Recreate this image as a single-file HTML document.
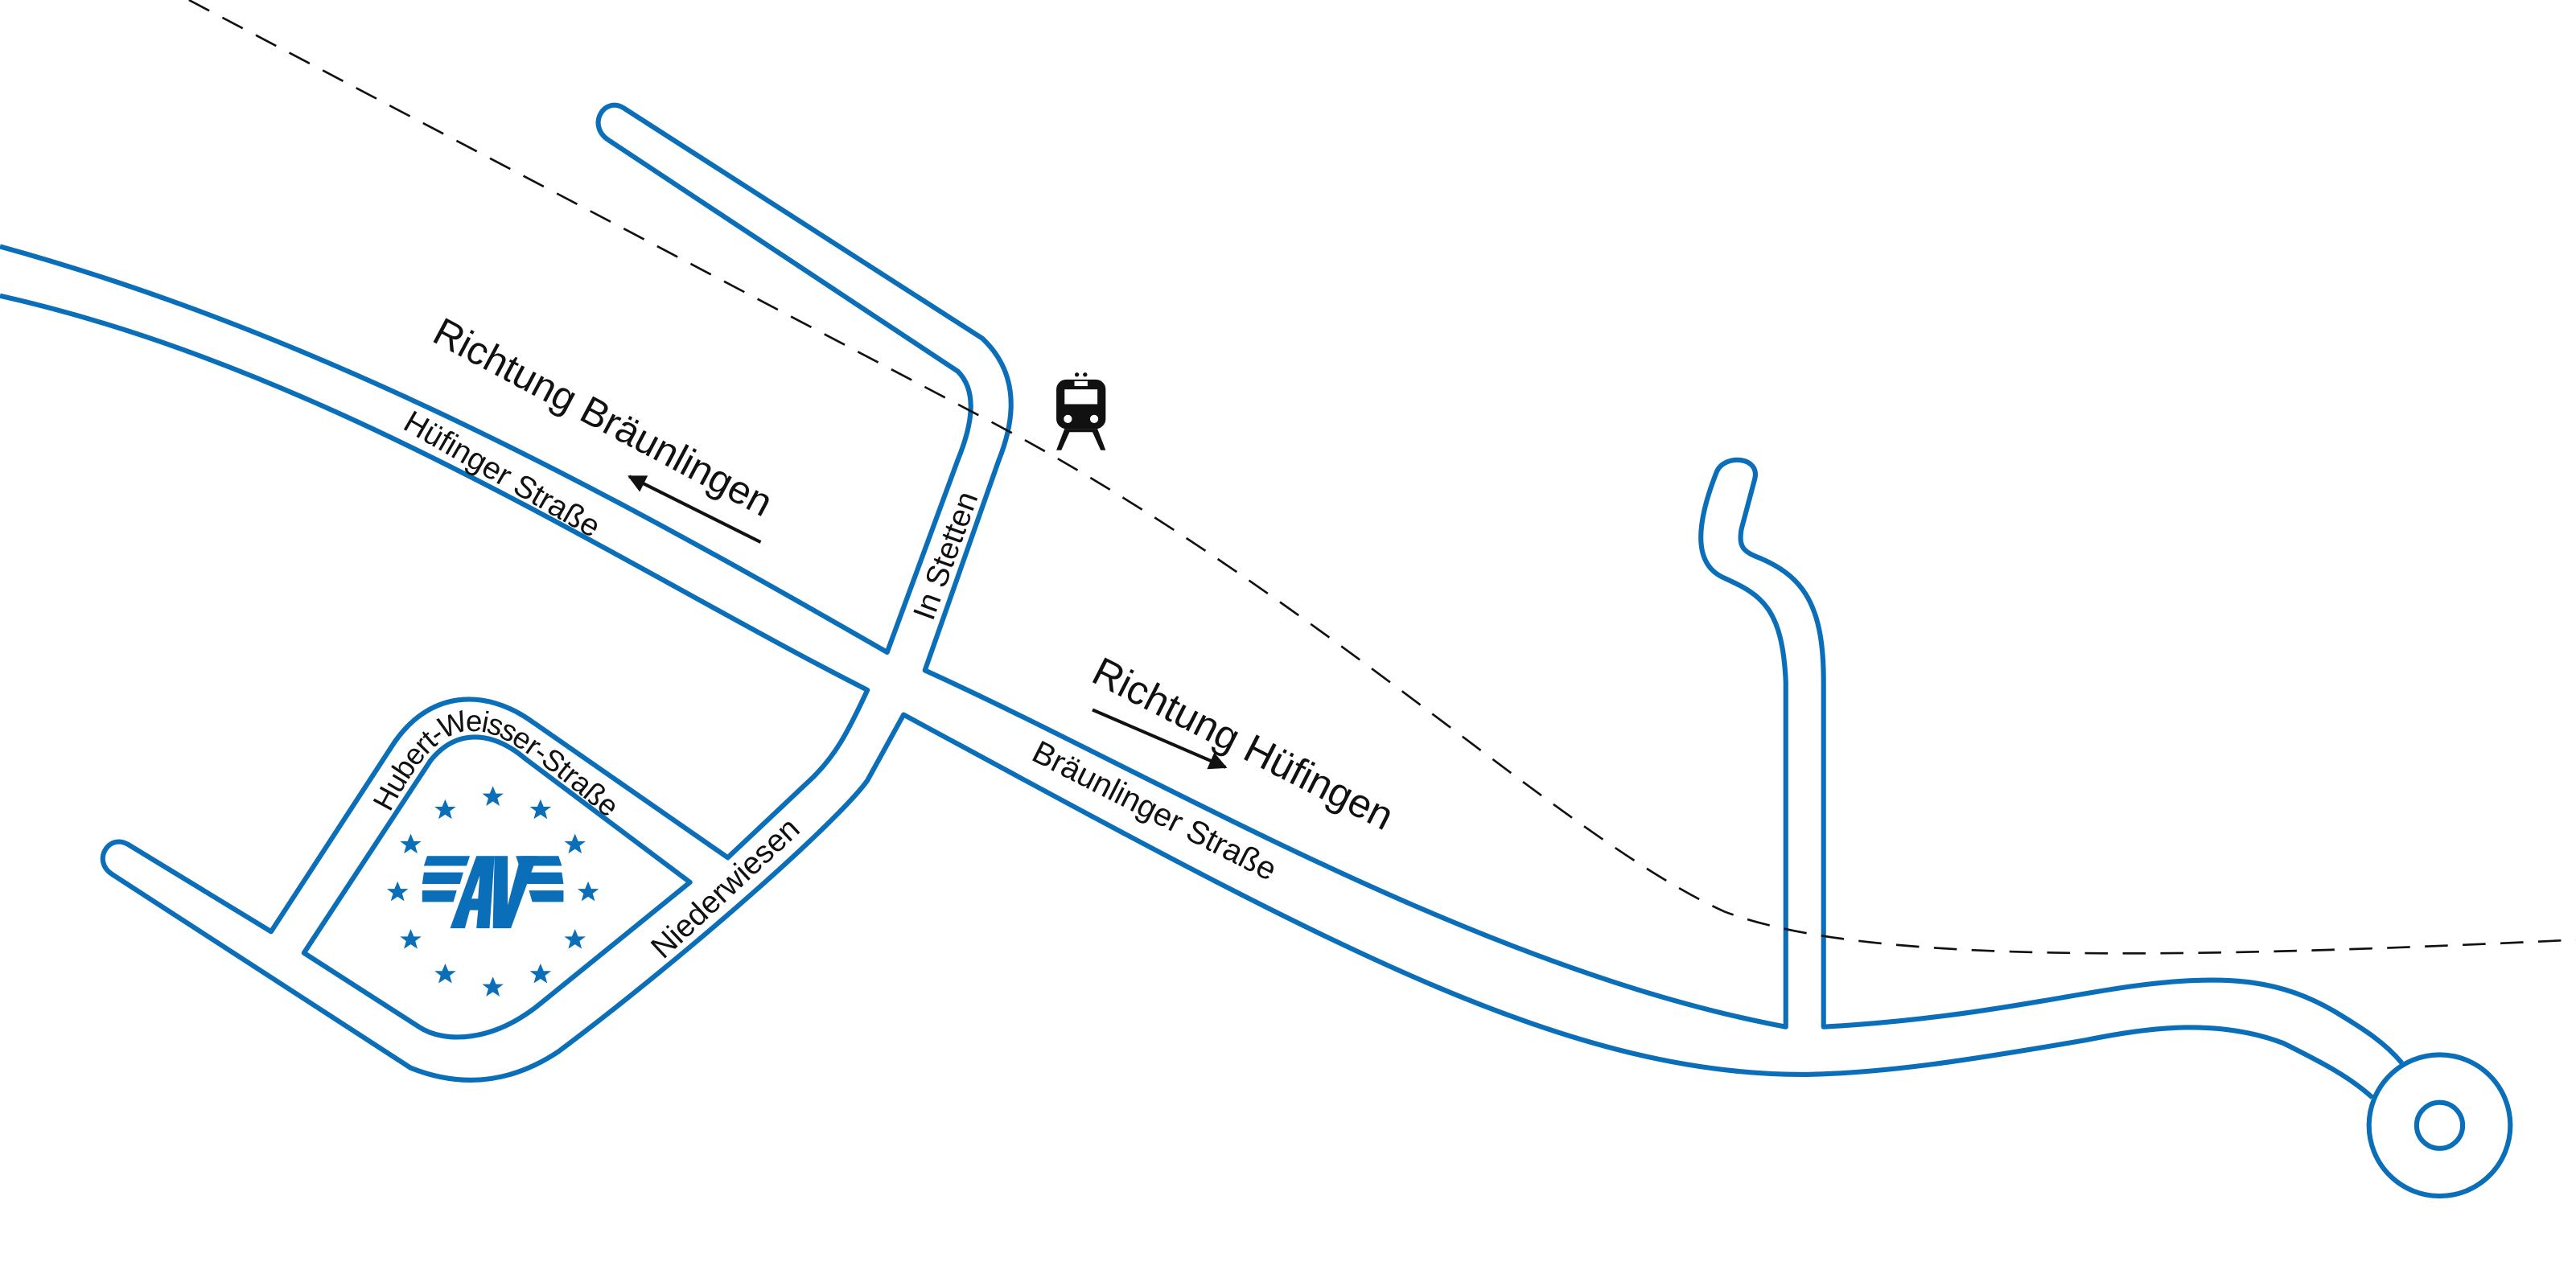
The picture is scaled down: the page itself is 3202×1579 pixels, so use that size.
<!DOCTYPE html>
<html><head><meta charset="utf-8"><style>html,body{margin:0;padding:0;background:#fff}svg{display:block}</style></head>
<body>
<svg width="3202" height="1579" viewBox="0 0 1568 773" preserveAspectRatio="none" xmlns="http://www.w3.org/2000/svg" font-family="Liberation Sans, sans-serif">
<defs>
<marker id="ah" viewBox="0 0 10 10" refX="9" refY="5" markerWidth="18" markerHeight="11" orient="auto" markerUnits="userSpaceOnUse"><path d="M0,0 L10,5 L0,10 z" fill="#111"/></marker>
<path id="hw" d="M232,492 C250,457 266,438 290,439 C310,440 328,454 403,518"/>
<g id="st"><path d="M0,-6.5 L1.9,-2 6.5,-2 2.8,0.8 4.1,5.5 0,2.8 -4.1,5.5 -2.8,0.8 -6.5,-2 -1.9,-2z" fill="#0a6fb8"/></g>
</defs>
<g fill="none" stroke="#0a6fb8" stroke-width="3" stroke-linejoin="round">
<path d="M0,150 C200,205 380,305 540,397 L583,280 C592,258 595,238 583,226 L370,85 C357,76 368,58 380,66 L598,206 C618,225 620,250 608,280 L563,408 C700,470 900,590 1087,625 L1087,415 C1085,370 1072,362 1050,352 C1033,345 1030,325 1045,287 C1050,276 1072,278 1068,292 L1060,322 C1058,334 1062,336 1072,340 C1100,352 1110,372 1110,415 L1110,625 C1200,620 1260,605 1300,600 C1360,592 1390,598 1420,615 C1440,627 1452,635 1462,647"/>
<circle cx="1485" cy="685" r="43"/>
<circle cx="1485" cy="685" r="14"/>
<path d="M1444,668 C1430,655 1410,645 1390,635 C1350,620 1310,625 1270,633 C1200,645 1150,653 1100,654 C950,655 800,570 550,435 L528,475 C510,500 420,580 340,640 C310,660 280,662 250,650 L68,532 C56,524 66,507 78,514 L165,567 L238,455 C260,420 295,418 325,440 L443,522 L495,473 C508,460 515,448 528,420 C380,345 200,225 0,180"/>
<path d="M185,580 L262,463 C278,443 300,445 320,462 L420,537 L330,610 C300,635 270,635 255,625 Z"/>
</g>
<path d="M115,0 L600,255 C800,360 950,510 1050,555 C1130,585 1300,585 1568,572" fill="none" stroke="#111" stroke-width="1.3" stroke-dasharray="14,9"/>
<line x1="463" y1="330" x2="383" y2="290" stroke="#111" stroke-width="2" marker-end="url(#ah)"/>
<line x1="665" y1="432" x2="746" y2="467" stroke="#111" stroke-width="2" marker-end="url(#ah)"/>
<g fill="#111">
<text x="367" y="262" font-size="24" text-anchor="middle" transform="rotate(28 367 254)">Richtung Bräunlingen</text>
<text x="306" y="295" font-size="19" text-anchor="middle" transform="rotate(30 306 288)">Hüfinger Straße</text>
<text x="575" y="345" font-size="19" text-anchor="middle" transform="rotate(-70 575 338)">In Stetten</text>
<text x="757" y="461" font-size="24.5" text-anchor="middle" transform="rotate(27 757 452)">Richtung Hüfingen</text>
<text x="703" y="500" font-size="19.5" text-anchor="middle" transform="rotate(27 703 493)">Bräunlinger Straße</text>
<text x="441" y="547" font-size="19" text-anchor="middle" transform="rotate(-43 441 540)">Niederwiesen</text>
<text font-size="18" dy="6"><textPath href="#hw" startOffset="0">Hubert-Weisser-Straße</textPath></text>
</g>
<g transform="translate(658,250)" fill="#111">
<circle cx="-2.5" cy="-22" r="1.3"/><circle cx="2.5" cy="-22" r="1.3"/>
<rect x="-15" y="-19" width="30" height="30" rx="6"/>
<rect x="-10" y="-13" width="20" height="9" fill="#fff"/>
<rect x="-4" y="-18" width="8" height="3" fill="#fff"/>
<circle cx="-8" cy="5" r="2.5" fill="#fff"/><circle cx="8" cy="5" r="2.5" fill="#fff"/>
<path d="M-10,11 L-15,24 L-12,24 L-7,13 L7,13 L12,24 L15,24 L10,11z"/>
</g>
<g transform="translate(300,543)">
<use href="#st" x="0" y="-58"/><use href="#st" x="29" y="-50"/><use href="#st" x="50" y="-29"/><use href="#st" x="58" y="0"/>
<use href="#st" x="50" y="29"/><use href="#st" x="29" y="50"/><use href="#st" x="0" y="58"/><use href="#st" x="-29" y="50"/>
<use href="#st" x="-50" y="29"/><use href="#st" x="-58" y="0"/><use href="#st" x="-50" y="-29"/><use href="#st" x="-29" y="-50"/>
<g fill="#0a6fb8">
<path d="M-40,-22 L-14,-22 L-16,-16 L-42,-16z M-42,-12 L-18,-12 L-20,-5 L-43,-5z M-43,-1 L-22,-1 L-24,6 L-43,6z"/>
<path d="M40,-22 L14,-22 L16,-16 L42,-16z M42,-12 L18,-12 L20,-5 L43,-5z M43,-1 L22,-1 L24,6 L43,6z"/>
<path d="M-26,22 L-10,-22 L1,-22 L-2,22 L-10,22 L-9,11 L-14,11 L-17,22z M-9,4 L-8,-10 L-13,4z"/>
<path d="M1,-22 L9,-22 L9,8 L17,-22 L27,-22 L11,22 L0,22z"/>
</g>
</g>
</svg>
</body></html>
